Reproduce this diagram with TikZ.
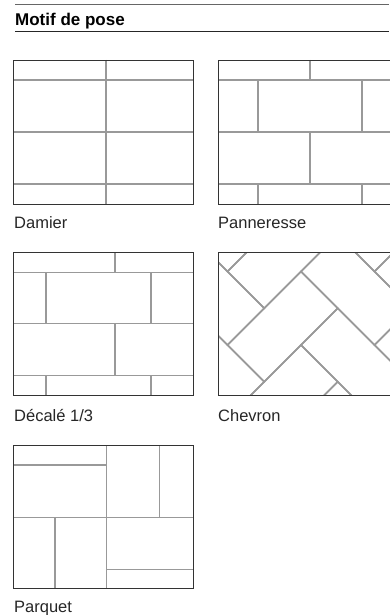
\documentclass[tikz,border=0pt]{standalone}
\usepackage{fontspec}
\setmainfont{Liberation Sans}

\tikzset{
  frame/.style={draw=black!80, line width=0.9pt},
  joint/.style={draw=black!40, line width=1.6pt},
  caption/.style={anchor=base west, inner sep=0pt, font=\fontsize{16.5}{19}\selectfont, text=black!85},
}

\begin{document}
\begin{tikzpicture}[x=1pt,y=-1pt]
        \useasboundingbox (0,0) rectangle (389,615);

        % header
        \draw[black!60, line width=0.8pt] (15,4) -- (389,4);
        \node[caption, font=\bfseries\fontsize{17}{20}\selectfont, text=black] (title) at (15,26) {Motif de pose};
        \draw[black!85, line width=1pt] (15,32) -- (389,32);

        % Damier
        \foreach \y in {80,132,184}
            \draw[joint] (13.5,\y) -- (193.5,\y);
        \draw[joint] (106,60) -- (106,204);
        \draw[frame] (13.5,60) rectangle (193.5,204);
        \node[caption] (damier) at (14,228) {Damier};

        % Panneresse
        \foreach \y in {80,132,184}
            \draw[joint] (218,\y) -- (398,\y);
        \foreach \x in {258,362}
            \draw[joint] (\x,80) -- (\x,132) (\x,184) -- (\x,204);
        \draw[joint] (310,60) -- (310,80) (310,132) -- (310,184);
        \draw[frame] (218,60) rectangle (398,204);
        \node[caption] (panneresse) at (218,228) {Panneresse};

        % Decale 1/3
        \foreach \y in {272.5,323.5,375.5}
            \draw[joint] (13.5,\y) -- (193.5,\y);
        \foreach \x in {46,151}
            \draw[joint] (\x,272.5) -- (\x,323.5) (\x,375.5) -- (\x,395.5);
        \draw[joint] (115,252.5) -- (115,272.5) (115,323.5) -- (115,375.5);
        \draw[frame] (13.5,252.5) rectangle (193.5,395.5);
        \node[caption] (decale) at (14,421) {Décalé 1/3};

        % Chevron
        \begin{scope}
            \clip (218,252.5) rectangle (398,395.5);
            \begin{scope}[shift={(301pt,-198pt)}, x={(36.75pt,-36.75pt)}, y={(-36.75pt,-36.75pt)}]
                \foreach \k in {-2,...,2}
                    \foreach \n in {-5,...,6} {
                        \draw[joint] (\n-2*\k,\n+2*\k) -- ++(1,0) -- ++(0,2) -- ++(-1,0) -- cycle;
                        \draw[joint] (\n-2*\k+1,\n+2*\k) -- ++(2,0) -- ++(0,1) -- ++(-2,0) -- cycle;
                    }
            \end{scope}
        \end{scope}
        \draw[frame] (218,252.5) rectangle (398,395.5);
        \node[caption] (chevron) at (218,421) {Chevron};

        % Parquet
        \draw[joint] (106.5,445) -- (106.5,588.5);
        \draw[joint] (13.5,517.5) -- (193,517.5);
        \draw[joint] (13.5,465) -- (106.5,465);
        \draw[joint] (159.5,445) -- (159.5,517.5);
        \draw[joint] (55,517.5) -- (55,588.5);
        \draw[joint] (106.5,569.5) -- (193,569.5);
        \draw[frame] (13.5,445) rectangle (193,588.5);
        \node[caption] (parquet) at (14,612) {Parquet};
    \end{tikzpicture}
\end{document}
